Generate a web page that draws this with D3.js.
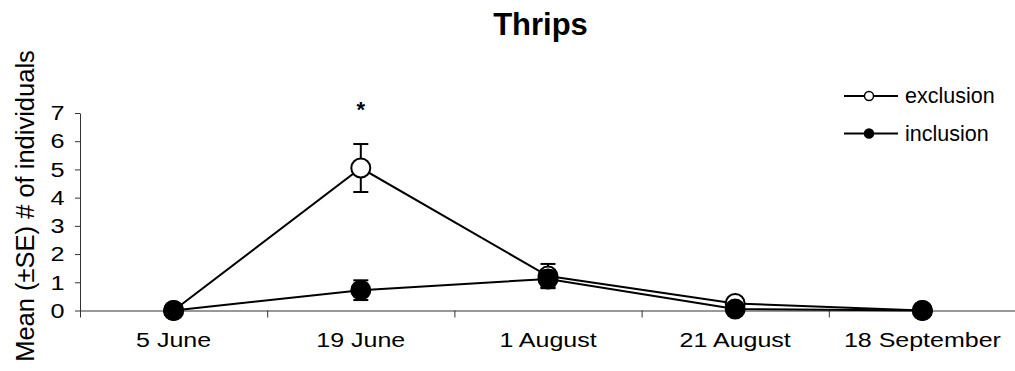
<!DOCTYPE html>
<html>
<head>
<meta charset="utf-8">
<script src="https://cdn.jsdelivr.net/npm/d3@7"></script>
<style>
  html, body { margin: 0; padding: 0; background: #fff; }
  svg { display: block; font-family: "Liberation Sans", Arial, sans-serif; }
</style>
</head>
<body>
<div id="chart"></div>
<script>
const dates = ["5 June", "19 June", "1 August", "21 August", "18 September"]
const exclusion = [0, 5.05, 1.22, 0.25, 0]
const exclusionSE = [0, 0.85, 0.43, 0, 0]
const inclusion = [0, 0.72, 1.12, 0.05, 0]
const inclusionSE = [0, 0.35, 0.3, 0, 0]
const yTicks = [0, 1, 2, 3, 4, 5, 6, 7]
const stars = [{ date: "19 June", text: "*" }]

const width = 1015
const height = 371
const margin = ({ top: 113, right: -1, bottom: 60.5, left: 80 })

const svg = d3.select("#chart").append("svg")
  .attr("width", width)
  .attr("height", height)
  .attr("viewBox", [0, 0, width, height])

const x = d3.scaleBand()
  .domain(dates)
  .range([margin.left, width - margin.right])

// band edges, for the tick marks between dates
const xEdge = d3.scaleLinear()
  .domain([0, dates.length])
  .range([margin.left, width - margin.right])

const y = d3.scaleLinear()
  .domain([0, 7])
  .range([height - margin.bottom, margin.top])

const cx = d => x(d) + x.bandwidth() / 2

// x axis: edge ticks, then labels under each date
svg.append("g")
  .attr("transform", `translate(0,${y(0)})`)
  .call(d3.axisBottom(xEdge).tickValues(d3.range(0, dates.length + 1)).tickFormat("").tickSize(7).tickSizeOuter(0))
  .call(g => g.selectAll("line, path").attr("stroke", "#333"))

svg.append("g")
  .attr("transform", `translate(0,${y(0)})`)
  .call(d3.axisBottom(x).tickSize(0))
  .call(g => g.select(".domain").remove())
  .call(g => g.selectAll("text")
    .attr("y", 36.5)
    .attr("dy", 0)
    .attr("fill", "#000")
    .attr("font-size", 20)
    .attr("transform", "scale(1.25,1)"))

svg.append("g")
  .attr("transform", `translate(${margin.left},0)`)
  .call(d3.axisLeft(y).tickValues(yTicks).tickFormat(d3.format("d")).tickSize(5).tickSizeOuter(0))
  .call(g => g.selectAll("line, path").attr("stroke", "#333"))
  .call(g => g.selectAll("text")
    .attr("x", -13)
    .attr("fill", "#000")
    .attr("font-size", 21)
    .attr("transform", "scale(1.2,1)"))

// title and y label
svg.append("text")
  .attr("x", 540.5)
  .attr("y", 35)
  .attr("text-anchor", "middle")
  .attr("font-weight", "bold")
  .attr("font-size", 31)
  .text("Thrips")

svg.append("text")
  .attr("transform", `translate(34,206) rotate(-90)`)
  .attr("text-anchor", "middle")
  .attr("font-size", 25.5)
  .text("Mean (±SE) # of individuals")

const line = d3.line()
  .x(d => cx(d.date))
  .y(d => y(d.value))

const drawSeries = (values, se, fill) => {
  const rows = dates.map((date, i) => ({ date, value: values[i], se: se[i] }))

  svg.append("path")
    .datum(rows)
    .attr("fill", "none")
    .attr("stroke", "#000")
    .attr("stroke-width", 2)
    .attr("d", line)

  const bars = svg.append("g")
    .attr("stroke", "#000")
    .attr("stroke-width", 2)
    .selectAll("g")
    .data(rows.filter(d => d.se > 0))
    .join("g")

  bars.append("line")
    .attr("x1", d => cx(d.date)).attr("x2", d => cx(d.date))
    .attr("y1", d => y(d.value + d.se)).attr("y2", d => y(d.value - d.se))
  bars.append("line")
    .attr("x1", d => cx(d.date) - 7.5).attr("x2", d => cx(d.date) + 7.5)
    .attr("y1", d => y(d.value + d.se)).attr("y2", d => y(d.value + d.se))
  bars.append("line")
    .attr("x1", d => cx(d.date) - 7.5).attr("x2", d => cx(d.date) + 7.5)
    .attr("y1", d => y(d.value - d.se)).attr("y2", d => y(d.value - d.se))

  svg.append("g")
    .selectAll("circle")
    .data(rows)
    .join("circle")
    .attr("cx", d => cx(d.date))
    .attr("cy", d => y(d.value))
    .attr("r", 9.5)
    .attr("fill", fill)
    .attr("stroke", "#000")
    .attr("stroke-width", 2)
}

drawSeries(exclusion, exclusionSE, "#fff")
drawSeries(inclusion, inclusionSE, "#000")

svg.append("g")
  .selectAll("text")
  .data(stars)
  .join("text")
  .attr("x", d => cx(d.date))
  .attr("y", 117)
  .attr("text-anchor", "middle")
  .attr("font-weight", "bold")
  .attr("font-size", 22)
  .text(d => d.text)

// legend
const legend = svg.append("g")
  .selectAll("g")
  .data([{ name: "exclusion", fill: "#fff" }, { name: "inclusion", fill: "#000" }])
  .join("g")
  .attr("transform", (d, i) => `translate(844,${96 + i * 37.5})`)

legend.append("line")
  .attr("x1", 0).attr("x2", 54)
  .attr("stroke", "#000")
  .attr("stroke-width", 2)

legend.append("circle")
  .attr("cx", 25)
  .attr("r", 4.5)
  .attr("fill", d => d.fill)
  .attr("stroke", "#000")
  .attr("stroke-width", 1.5)

legend.append("text")
  .attr("x", 61)
  .attr("y", 7)
  .attr("font-size", 21.5)
  .text(d => d.name)
</script>
</body>
</html>
